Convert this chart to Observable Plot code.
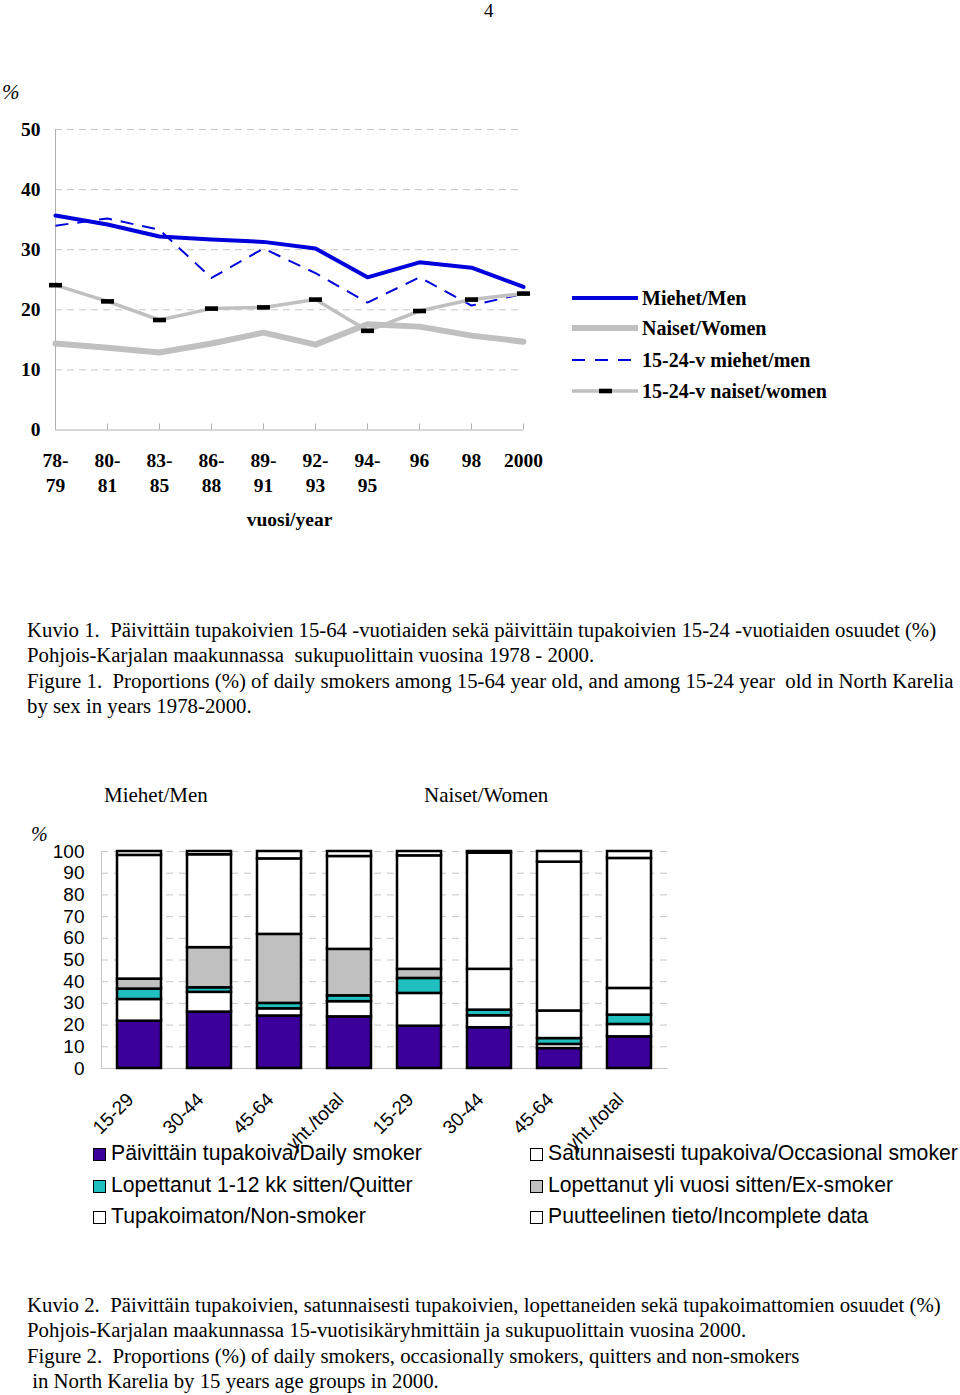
<!DOCTYPE html>
<html><head><meta charset="utf-8">
<script src="https://cdn.jsdelivr.net/npm/d3@7"></script>
<script src="https://cdn.jsdelivr.net/npm/@observablehq/plot@0.6"></script>
<style>
body{margin:0;background:#fff;}
#page{position:relative;width:960px;height:1395px;overflow:hidden;background:#fff;}
.abs{position:absolute;white-space:pre;}
.serif{font-family:"Liberation Serif","Times New Roman",serif;}
.sans{font-family:"Liberation Sans",Arial,sans-serif;}
.cap{font-size:20.8px;line-height:25.5px;height:25.5px;}
.sw{display:inline-block;width:11px;height:11px;border:1.5px solid #000;margin-right:5px;vertical-align:-1px;}
svg{overflow:visible;}
</style></head><body><div id="page"></div>
<script>
// ---------- Figure 1 data ----------
const periods = ["78-79","80-81","83-85","86-88","89-91","92-93","94-95","96","98","2000"];
const periodLabels = ["78-\n79","80-\n81","83-\n85","86-\n88","89-\n91","92-\n93","94-\n95","96","98","2000"];
const men = [35.7,34.2,32.2,31.7,31.3,30.2,25.4,27.9,27.0,23.8];
const women = [14.4,13.7,12.9,14.4,16.2,14.2,17.6,17.2,15.7,14.7];
const men1524 = [34.0,35.2,33.3,25.3,30.2,26.1,21.2,25.4,20.7,22.7];
const women1524 = [24.1,21.4,18.3,20.2,20.4,21.7,16.5,19.8,21.7,22.7];
const yTicks1 = [0,10,20,30,40,50];
const seriesNames1 = ["Miehet/Men","Naiset/Women","15-24-v miehet/men","15-24-v naiset/women"];

// ---------- Figure 2 data ----------
const groups = ["M 15-29","M 30-44","M 45-64","M yht./total","N 15-29","N 30-44","N 45-64","N yht./total"];
const groupLabels = ["15-29","30-44","45-64","yht./total","15-29","30-44","45-64","yht./total"];
const statusNames = ["Päivittäin tupakoiva/Daily smoker","Satunnaisesti tupakoiva/Occasional smoker","Lopettanut 1-12 kk sitten/Quitter","Lopettanut yli vuosi sitten/Ex-smoker","Tupakoimaton/Non-smoker","Puutteelinen tieto/Incomplete data"];
const daily      = [21.8,26.0,24.2,23.8,19.5,18.8, 9.2,14.6];
const occasional = [10.0, 9.1, 3.3, 7.0,15.1, 5.5, 1.9, 5.7];
const quitter    = [ 4.8, 2.1, 2.5, 2.7, 6.9, 2.6, 2.7, 4.3];
const exSmoker   = [ 4.6,18.5,31.8,21.4, 4.2,18.8,12.7,12.3];
const nonSmoker  = [57.0,42.8,34.8,42.8,52.3,53.5,68.6,59.9];
const incomplete = [ 1.8, 1.5, 3.4, 2.3, 2.0, 0.8, 4.9, 3.2];
const yTicks2 = [0,10,20,30,40,50,60,70,80,90,100];
const sexTitles = ["Miehet/Men","Naiset/Women"];

// ---------- styles ----------
const SERIF = '"Liberation Serif","Times New Roman",serif';
const SANS = '"Liberation Sans",Arial,sans-serif';
const BLUE = "#0000dd", LGRAY = "#c0c0c0", GRID = "#c6c6c6";
const statusFill = ["#3a0099","#ffffff","#1fbfbf","#c0c0c0","#ffffff","#ffffff"];
// in the source the ex-smoker segment of these bars is left unfilled
const unfilledEx = ["N 30-44","N 45-64","N yht./total"];

const page = document.getElementById("page");
function addDiv(html, cls, left, top, extra){
  const d = document.createElement("div");
  d.className = "abs " + cls;
  d.style.left = left + "px"; d.style.top = top + "px";
  if (extra) Object.assign(d.style, extra);
  d.textContent = html;
  page.appendChild(d);
  return d;
}

// page number
addDiv("4","serif",484,0,{fontSize:"19px",lineHeight:"21px"});
addDiv("%","serif",2,80,{fontSize:"21px",fontStyle:"italic"});

// ---------- Figure 1 ----------
const rows1 = periods.map((p,i)=>({period:p, men:men[i], women:women[i], men1524:men1524[i], women1524:women1524[i]}));
const barSymbol = {draw(ctx){ ctx.rect(-6.5,-2.3,13,4.6); }};
const chart1 = Plot.plot({
  width:560, height:460, marginLeft:55, marginRight:37, marginTop:49, marginBottom:110.5,
  style:{fontFamily:SERIF, fontSize:"19.5px", fontWeight:"bold", color:"black", background:"transparent"},
  x:{type:"point", domain:periods, padding:0},
  y:{domain:[0,50]},
  marks:[
    Plot.ruleY(yTicks1.filter(d=>d>0), {stroke:GRID, strokeDasharray:"7,5"}),
    Plot.ruleX(periods.slice(0,1), {stroke:"#b0b0b0"}),
    Plot.ruleY([0], {stroke:"#b0b0b0"}),
    Plot.ruleX(periods, {y1:0, y2:1, stroke:"#b0b0b0"}),
    Plot.line(rows1, {x:"period", y:"women", stroke:LGRAY, strokeWidth:6}),
    Plot.line(rows1, {x:"period", y:"men", stroke:BLUE, strokeWidth:4}),
    Plot.line(rows1, {x:"period", y:"men1524", stroke:BLUE, strokeWidth:2, strokeDasharray:"13,9", strokeLinecap:"butt"}),
    Plot.line(rows1, {x:"period", y:"women1524", stroke:LGRAY, strokeWidth:3.5}),
    Plot.dot(rows1, {x:"period", y:"women1524", symbol:barSymbol, fill:"black", stroke:"none"}),
    Plot.axisY({ticks:yTicks1, tickSize:0, tickPadding:15, label:null}),
    Plot.axisX({tickSize:0, tickPadding:19, lineHeight:1.3, label:null, tickFormat:d=>periodLabels[periods.indexOf(d)]}),
    Plot.text(["vuosi/year"], {text:d=>d, frameAnchor:"bottom", lineAnchor:"middle", dy:90})
  ]
});
chart1.style.position = "absolute"; chart1.style.left = "0px"; chart1.style.top = "80px";
page.appendChild(chart1);

// legend fig 1
const leg1 = d3.select(page).append("svg")
  .attr("width",300).attr("height",130)
  .style("position","absolute").style("left","560px").style("top","280px");
const legY = [18,48,80,111];
const legStyles = [
  {stroke:BLUE, w:4, dash:null},
  {stroke:LGRAY, w:6, dash:null},
  {stroke:BLUE, w:2, dash:"13,10"},
  {stroke:LGRAY, w:3.5, dash:null}
];
seriesNames1.forEach((name,i)=>{
  const s = legStyles[i];
  const g = leg1.append("g");
  g.append("line").attr("x1",12).attr("x2",78).attr("y1",legY[i]).attr("y2",legY[i])
    .attr("stroke",s.stroke).attr("stroke-width",s.w).attr("stroke-dasharray",s.dash);
  if (i===3) g.append("rect").attr("x",39).attr("y",legY[i]-2.3).attr("width",13).attr("height",4.6).attr("fill","black");
  g.append("text").attr("x",82).attr("y",legY[i]).attr("dy","0.35em")
    .attr("font-family",SERIF).attr("font-weight","bold").attr("font-size","20px").text(name);
});

// captions
const cap1 = [
  "Kuvio 1.  Päivittäin tupakoivien 15-64 -vuotiaiden sekä päivittäin tupakoivien 15-24 -vuotiaiden osuudet (%)",
  "Pohjois-Karjalan maakunnassa  sukupuolittain vuosina 1978 - 2000.",
  "Figure 1.  Proportions (%) of daily smokers among 15-64 year old, and among 15-24 year  old in North Karelia",
  "by sex in years 1978-2000."
];
cap1.forEach((t,i)=> addDiv(t,"serif cap",27,616.5+i*25.6));

// ---------- Figure 2 ----------
addDiv(sexTitles[0],"serif",104,783,{fontSize:"21px"});
addDiv(sexTitles[1],"serif",424,783,{fontSize:"21px"});
addDiv("%","serif",31,823,{fontSize:"20px",fontStyle:"italic"});

const series2 = [daily,occasional,quitter,exSmoker,nonSmoker,incomplete];
const table2 = [];
statusNames.forEach((s,k)=> groups.forEach((g,i)=> table2.push({group:g, status:s, k, value:series2[k][i]})));
const fillOf = d => (d.k===3 && unfilledEx.includes(d.group)) ? "#ffffff" : statusFill[d.k];

const chart2 = Plot.plot({
  width:700, height:320, marginLeft:101, marginRight:32.4, marginTop:31, marginBottom:72,
  style:{fontFamily:SANS, fontSize:"19px", color:"black", background:"transparent"},
  x:{domain:groups, paddingInner:0.377, paddingOuter:0.2},
  y:{domain:[0,100]},
  marks:[
    Plot.ruleY(yTicks2.filter(d=>d>0), {stroke:GRID, strokeDasharray:"7,6"}),
    Plot.ruleY([0], {stroke:"#c8c8c8"}),
    Plot.frame({anchor:"left", stroke:"#c8c8c8"}),
    Plot.barY(table2, {x:"group", y:"value", z:"status", fill:fillOf, stroke:"black", strokeWidth:2.5}),
    Plot.axisY({ticks:yTicks2, tickSize:0, tickPadding:17, label:null}),
    Plot.axisX({tickSize:0, tickPadding:28, dx:-9, tickRotate:-45, label:null, tickFormat:d=>groupLabels[groups.indexOf(d)]})
  ]
});
chart2.style.position = "absolute"; chart2.style.left = "0px"; chart2.style.top = "820px";
page.appendChild(chart2);

// legend fig 2 (row-major, two columns)
const legCols = [93,530], legRows = [1141,1172.5,1204];
statusNames.forEach((s,k)=>{
  const d = document.createElement("div");
  d.className = "abs sans";
  d.style.left = legCols[k%2]+"px"; d.style.top = legRows[Math.floor(k/2)]+"px";
  d.style.fontSize = "21.2px"; d.style.lineHeight = "24px";
  const sw = document.createElement("span"); sw.className = "sw"; sw.style.background = statusFill[k];
  d.appendChild(sw);
  d.appendChild(document.createTextNode(s));
  page.appendChild(d);
});

const cap2 = [
  "Kuvio 2.  Päivittäin tupakoivien, satunnaisesti tupakoivien, lopettaneiden sekä tupakoimattomien osuudet (%)",
  "Pohjois-Karjalan maakunnassa 15-vuotisikäryhmittäin ja sukupuolittain vuosina 2000.",
  "Figure 2.  Proportions (%) of daily smokers, occasionally smokers, quitters and non-smokers",
  " in North Karelia by 15 years age groups in 2000."
];
cap2.forEach((t,i)=> addDiv(t,"serif cap",27,1291.5+i*25.6));
</script></body></html>
